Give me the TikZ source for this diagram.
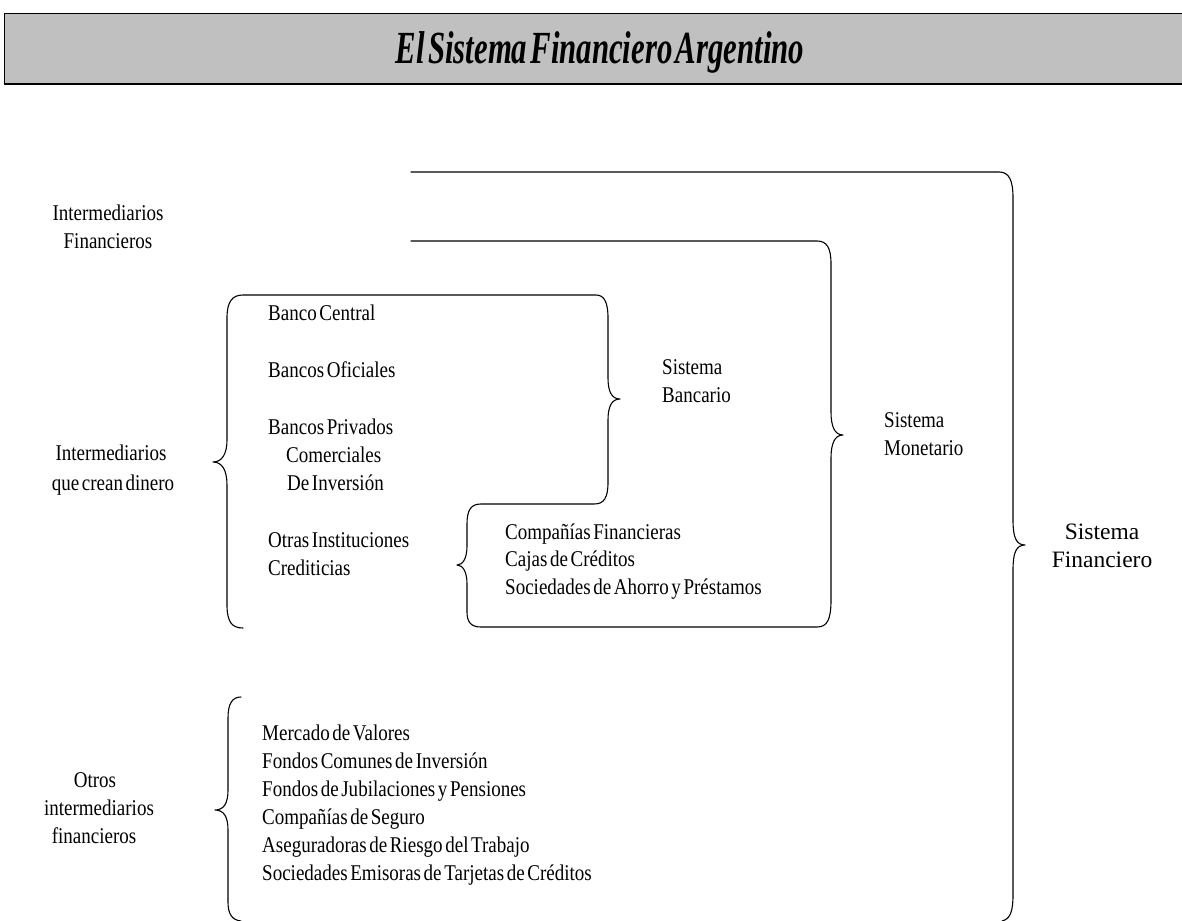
\documentclass[tikz,border=0pt]{standalone}
\usepackage{fontspec}
\setmainfont{Liberation Serif}
\newfontfamily\condfont[FakeStretch=0.845, WordSpace=0.55]{Liberation Serif}
\newfontfamily\ttlfont[FakeStretch=0.67, WordSpace=0.4]{Liberation Serif}
\definecolor{barfill}{HTML}{C0C0C0}
\begin{document}
\begin{tikzpicture}[x=1pt,y=-1pt,
  lbl/.style={font=\condfont\fontsize{22.5}{28}\selectfont, inner sep=0pt},
  lbll/.style={lbl, anchor=mid west},
  lblc/.style={lbl, anchor=mid},
  brc/.style={line width=1.1pt, line join=round, line cap=round}]
\useasboundingbox (0,0) rectangle (1182,920);
\clip (0,0) rectangle (1182,920);
% title bar
\fill[barfill] (4,13) rectangle (1190,84);
\draw[line width=0.8pt] (1190,13) -- (4,13) -- (4,84);
\draw[line width=2pt] (4,84.5) -- (1190,84.5);
\node[font=\ttlfont\bfseries\itshape\fontsize{46}{46}\selectfont, anchor=base, inner sep=0pt] (title) at (600,64) {El Sistema Financiero Argentino};

% outer brace: Sistema Financiero
\draw[brc] (411,172) -- (999,172) .. controls (1009,172) and (1013,180) .. (1013,198)
  -- (1013,520) .. controls (1013,537) and (1016,545) .. (1025,545)
  .. controls (1016,545) and (1013,553) .. (1013,570)
  -- (1013,895) .. controls (1013,912) and (1010,919) .. (1002,921);

% upper structure: crean dinero, Bancario, Otras, Monetario
\draw[brc] (243,628) .. controls (232,628) and (227,622) .. (227,605)
  -- (227,485) .. controls (227,470) and (222,462) .. (213,462)
  .. controls (222,462) and (227,454) .. (227,440)
  -- (227,318) .. controls (227,302) and (232,295) .. (243,295)
  -- (596,295) .. controls (604,295) and (608,302) .. (608,318)
  -- (608,378) .. controls (608,392) and (612,399) .. (620,399)
  .. controls (612,399) and (608,406) .. (608,420)
  -- (608,482) .. controls (608,498) and (604,504) .. (594,504)
  -- (481,504) .. controls (471,504) and (467,510) .. (467,524)
  -- (467,546) .. controls (467,558) and (463,565) .. (457,565)
  .. controls (463,565) and (467,572) .. (467,584)
  -- (467,612) .. controls (467,622) and (471,627) .. (481,627)
  -- (817,627) .. controls (827,627) and (831,620) .. (831,600)
  -- (831,458) .. controls (831,443) and (835,435) .. (843,435)
  .. controls (835,435) and (831,427) .. (831,412)
  -- (831,264) .. controls (831,248) and (827,241) .. (817,241)
  -- (411,241);

% Otros brace
\draw[brc] (241,697) .. controls (232,697) and (228,704) .. (228,718)
  -- (228,790) .. controls (228,803) and (224,810) .. (215,810)
  .. controls (224,810) and (228,817) .. (228,830)
  -- (228,902) .. controls (228,914) and (232,920) .. (241,921);

% left labels
\node[lblc] (if1) at (108,218) {Intermediarios};
\node[lblc] (if2) at (108,246) {Financieros};
\node[lblc] (cd1) at (111,458) {Intermediarios};
\node[lblc] (cd2) at (113,488) {que crean dinero};
\node[lblc] (ot1) at (95,785) {Otros};
\node[lblc] (ot2) at (99,813) {intermediarios};
\node[lblc] (ot3) at (94,841) {financieros};

% upper box items
\node[lbll] (b1) at (268,318) {Banco Central};
\node[lbll] (b2) at (268,375) {Bancos Oficiales};
\node[lbll] (b3) at (268,432) {Bancos Privados};
\node[lbll] (b4) at (286,460) {Comerciales};
\node[lbll] (b5) at (287,488) {De Inversión};
\node[lbll] (b6) at (268,545) {Otras Instituciones};
\node[lbll] (b7) at (268,573) {Crediticias};

% Compañías box items
\node[lbll] (c1) at (505,537) {Compañías Financieras};
\node[lbll] (c2) at (505,564) {Cajas de Créditos};
\node[lbll] (c3) at (505,592) {Sociedades de Ahorro y Préstamos};

% system labels
\node[lbll] (sb1) at (662,372) {Sistema};
\node[lbll] (sb2) at (662,400) {Bancario};
\node[lbll] (sm1) at (884,425) {Sistema};
\node[lbll] (sm2) at (884,453) {Monetario};
\node[font=\fontsize{23.5}{28}\selectfont, inner sep=0pt, anchor=mid] (sf1) at (1102,537) {Sistema};
\node[font=\fontsize{23.5}{28}\selectfont, inner sep=0pt, anchor=mid] (sf2) at (1102,565) {Financiero};

% bottom list
\node[lbll] (o1) at (262,738) {Mercado de Valores};
\node[lbll] (o2) at (262,766) {Fondos Comunes de Inversión};
\node[lbll] (o3) at (262,794) {Fondos de Jubilaciones y Pensiones};
\node[lbll] (o4) at (262,822) {Compañías de Seguro};
\node[lbll] (o5) at (262,850) {Aseguradoras de Riesgo del Trabajo};
\node[lbll] (o6) at (262,878) {Sociedades Emisoras de Tarjetas de Créditos};
\end{tikzpicture}
\end{document}
